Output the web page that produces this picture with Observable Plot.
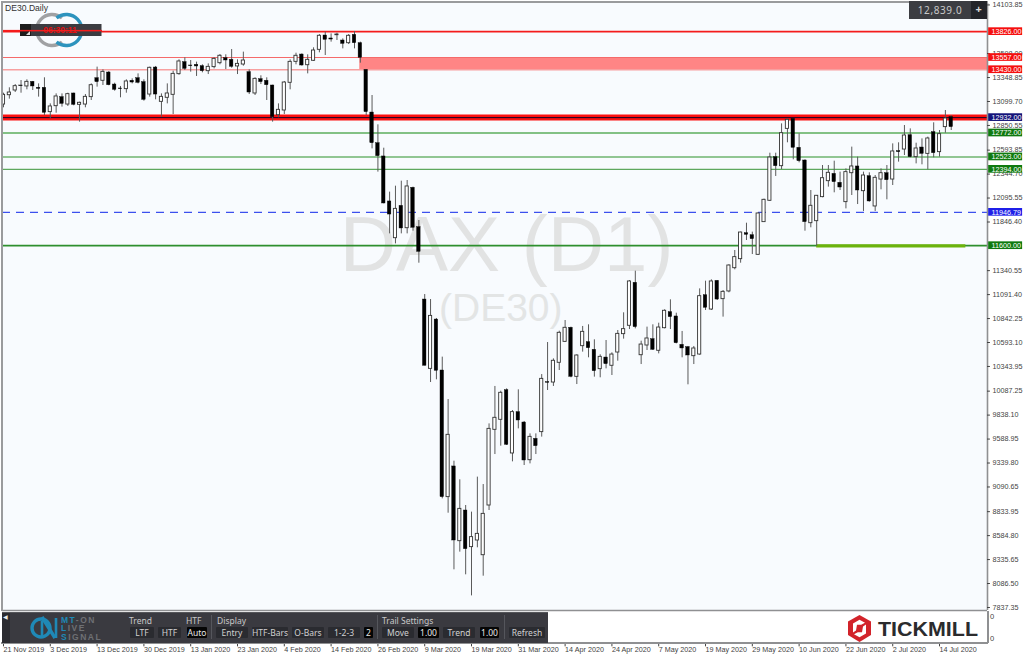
<!DOCTYPE html>
<html><head><meta charset="utf-8">
<script src="https://cdn.jsdelivr.net/npm/d3@7"></script>
<script src="https://cdn.jsdelivr.net/npm/@observablehq/plot@0.6"></script>
<style>
html,body{margin:0;padding:0;background:#fff;width:1024px;height:658px;overflow:hidden}
#wrap{position:relative;width:1024px;height:658px;font-family:"Noto Sans",sans-serif}
#wrap svg.plot{position:absolute;left:0;top:0}
.ov{position:absolute;box-sizing:border-box;white-space:nowrap}
.lab{color:#c8c8c8;font-size:8.5px;line-height:10px}
.btn{background:#2a2b30;color:#d0d0d0;font-size:8.5px;line-height:11px;height:11px;text-align:center;border-radius:1px}
.blk{background:#050505;color:#e8e8e8}
.div{background:#55565c;width:1px;height:24px;top:615px}
</style></head><body><div id="wrap"></div>
<script>
const open_ = [13068,13165,13214,13266,13256,13304,13242,13242,12989,13051,
13145,13068,13183,13065,13068,13145,13342,13315,13401,13276,
13235,13228,13315,13342,13301,13172,13453,13096,13138,13169,
13384,13509,13474,13481,13467,13415,13457,13498,13550,13533,
13464,13484,13405,13183,13332,13315,13266,12957,13006,13294,
13512,13588,13477,13523,13637,13786,13755,13789,13734,13706,
13793,13706,13429,12985,12666,12528,12060,11678,12014,11782,
12202,11793,11040,10319,10832,10302,8985,9304,8527,8846,
8465,8534,8381,8898,9685,9789,10097,9439,9869,9761,
9369,9591,9661,10181,10177,10382,10600,10746,10236,10555,
10597,10517,10316,10437,10351,10489,10680,10767,11214,10461,
10562,10628,10507,10742,10909,10864,10569,10545,10451,10468,
11085,10936,11234,11044,11124,11366,11460,11730,11709,11505,
11845,12067,12521,12427,12815,12919,12618,12486,11834,11855,
12105,12271,12347,12254,12053,12354,12424,12167,12323,12008,
12288,12354,12288,12583,12600,12749,12521,12621,12555,12781,
12573,12833,12937];
const close_ = [13169,13193,13259,13259,13304,13256,13231,12982,13048,13152,
13075,13176,13065,13086,13148,13269,13301,13408,13269,13221,
13228,13308,13297,13294,13117,13450,13172,13148,13183,13387,
13516,13439,13467,13464,13415,13460,13543,13575,13526,13460,
13491,13526,13193,13335,13301,13269,12937,13013,13297,13512,
13575,13474,13533,13630,13783,13741,13744,13796,13699,13783,
13706,13554,12989,12666,12531,12039,11924,11983,11779,12216,
11786,11536,10351,10870,10299,8985,9633,8534,8863,8444,
8569,8603,8811,9695,9810,10070,9529,9869,9782,9366,
9612,9515,10215,10174,10403,10694,10746,10236,10458,10704,
10534,10295,10444,10368,10468,10683,10732,11228,10753,10572,
10635,10517,10749,10923,10857,10586,10531,10458,10531,11075,
10954,11228,11040,11120,11394,11481,11737,11713,11668,11935,
12077,12517,12427,12770,12909,12618,12479,11845,12015,12119,
12302,12358,12261,12205,12365,12424,12174,12330,12060,12306,
12354,12281,12580,12573,12746,12521,12611,12555,12715,12562,
12760,12923,12833];
const high_ = [13186,13242,13276,13318,13325,13308,13283,13346,13075,13179,
13179,13186,13186,13093,13172,13283,13457,13429,13412,13290,
13256,13325,13335,13387,13325,13457,13464,13179,13283,13415,
13533,13554,13526,13509,13481,13491,13554,13588,13585,13640,
13533,13613,13429,13346,13367,13346,13269,13075,13308,13533,
13602,13595,13585,13658,13796,13821,13803,13810,13751,13796,
13828,13717,13429,13162,12857,12614,12157,12219,12271,12278,
12209,11862,11092,11040,10843,10441,10000,9359,9165,8898,
8829,9193,9116,9747,10136,10087,10111,9886,10101,9772,
9643,9643,10260,10593,10423,10711,10822,10753,10465,10760,
10777,10621,10465,10614,10486,10718,10902,11238,11335,10607,
10753,10777,10794,10933,11037,10898,10708,10552,10552,11151,
11231,11245,11238,11134,11401,11550,11741,11834,11741,11942,
12084,12562,12562,12867,12919,12919,12763,12493,12174,12122,
12434,12434,12479,12365,12399,12625,12521,12365,12358,12330,
12399,12434,12659,12670,12850,12815,12666,12711,12729,12878,
12798,13006,12954];
const low_ = [13034,13124,13193,13186,13221,13214,13145,12954,12919,12978,
13041,13048,13055,12885,13034,13110,13249,13266,13263,13207,
13138,13186,13283,13283,13103,13145,13117,12937,13075,12964,
13373,13422,13405,13360,13398,13380,13439,13481,13432,13446,
13380,13467,13172,13162,13276,13110,12885,12930,12964,13221,
13481,13467,13387,13516,13606,13578,13717,13734,13647,13692,
13647,13498,12954,12607,12365,12035,11723,11619,11723,11723,
11751,11418,10351,10177,10205,8967,8818,8229,8413,8177,
7958,8458,8163,8846,9428,9515,9522,9352,9695,9314,
9331,9428,9609,10094,10136,10302,10593,10226,10156,10493,
10434,10233,10226,10319,10250,10399,10628,10728,10735,10364,
10510,10510,10475,10735,10728,10579,10434,10153,10364,10461,
10926,10926,11030,10857,11110,11349,11418,11654,11508,11498,
11855,12060,12320,12392,12670,12493,12462,11751,11786,11592,
12098,12209,12150,12174,11983,12122,12028,11956,12053,11956,
12181,12077,12226,12469,12538,12514,12451,12441,12389,12514,
12521,12770,12798];

const priceTicks = [14103.85,13598.00,13348.85,13099.70,12850.55,12593.85,12344.70,12095.55,11846.40,11340.55,11091.40,10842.25,10593.10,10343.95,10087.25,9838.10,9588.95,9339.80,9090.65,8833.95,8584.80,8335.65,8086.50,7837.35];
const dateLabels = ["21 Nov 2019","3 Dec 2019","13 Dec 2019","30 Dec 2019","13 Jan 2020","23 Jan 2020","4 Feb 2020","14 Feb 2020","26 Feb 2020","9 Mar 2020","19 Mar 2020","31 Mar 2020","14 Apr 2020","24 Apr 2020","7 May 2020","19 May 2020","29 May 2020","10 Jun 2020","22 Jun 2020","2 Jul 2020","14 Jul 2020"];
const levelValues = [13826,13557,13430,12932,12772,12523,12394,11946.79,11600];
const levelLabels = ["13826.00","13557.00","13430.00","12932.00","12772.00","12523.00","12394.00","11946.79","11600.00"];
const levelFill = ["#f50f0f","#f50f0f","#f50f0f","#14147a","#0f7a0f","#0f7a0f","#0f7a0f","#1f1fe8","#0f7a0f"];
const levelStroke = ["#f41c1c","#f56a6a","#f7a0a0","#f01010","#5cae5c","#6fb56f","#5ea85e","#3c50ee","#2e8f2e"];
const levelWidth = [1.6,1.2,1.6,1.2,1.4,1.4,1.3,1.2,1.8];

const candles = open_.map((o,k)=>({i:k+1,o,c:close_[k],h:high_[k],l:low_[k],up:close_[k]>=o}));
const levels = levelValues.map((v,k)=>({v,label:levelLabels[k],fill:levelFill[k],stroke:levelStroke[k],w:levelWidth[k]}));
const dates = dateLabels.map((label,k)=>({label,i:1+8*k}));

const xEnd = 169.2, xStart = 0.83;     // candle-index edges of the chart window
const boxL = 169.4, boxR = 175.2;      // price tags in the right gutter
const yLow = 7806, yTop = 14118.8;
const labelFont = "'Liberation Sans',sans-serif";

const chart = Plot.plot({
  width:1024,height:658,
  marginLeft:2,marginRight:37,marginTop:3,marginBottom:48,
  style:{background:"transparent",fontFamily:labelFont,overflow:"visible"},
  x:{domain:[xStart,xEnd],axis:null},
  y:{domain:[yLow,yTop],axis:null},
  marks:[
    Plot.rect([0],{x1:xStart,x2:xEnd,y1:yLow,y2:yTop,fill:"#f8fbfe"}),
    Plot.text(["DAX (D1)"],{x:[87],y:[11600],fill:"#e2e3e3",fontSize:78,fontFamily:labelFont,textAnchor:"middle"}),
    Plot.text(["(DE30)"],{x:[86],y:[10950],fill:"#e3e5e5",fontSize:39,fontFamily:labelFont,textAnchor:"middle"}),
    Plot.rect([0],{x1:61.9,x2:xEnd,y1:13430,y2:13557,fill:"#ff8585"}),
    Plot.ruleY([12932],{x1:xStart,x2:xEnd,stroke:"#fb1010",strokeWidth:6}),
    Plot.ruleY(levels.filter(d=>d.v!==11946.79),{y:"v",x1:xStart,x2:xEnd,stroke:"stroke",strokeWidth:"w"}),
    Plot.ruleY(levels.filter(d=>d.v===11946.79),{y:"v",x1:xStart,x2:xEnd,stroke:"stroke",strokeWidth:1.2,strokeDasharray:"8,6"}),
    Plot.ruleY([12932],{x1:xStart,x2:xEnd,stroke:"#16062a",strokeWidth:1}),
    Plot.ruleY([11598],{x1:140,x2:165.5,stroke:"#6cb30c",strokeWidth:3.2}),
    Plot.ruleX(candles,{x:"i",y1:"l",y2:"h",stroke:"#5a5a5a",strokeWidth:1}),
    Plot.rect(candles.filter(d=>d.up),{x1:d=>d.i-.27,x2:d=>d.i+.27,y1:"o",y2:"c",fill:"#fff",stroke:"#333",strokeWidth:.9}),
    Plot.rect(candles.filter(d=>!d.up),{x1:d=>d.i-.3,x2:d=>d.i+.3,y1:"o",y2:"c",fill:"#000",stroke:"#000",strokeWidth:.4}),
    Plot.ruleX([xEnd],{y1:yLow,y2:yTop,stroke:"#8f9092",strokeWidth:1.6}),
    Plot.ruleY([yLow],{x1:xStart,x2:xEnd,stroke:"#8f9092",strokeWidth:1.6}),
    Plot.ruleY(priceTicks,{x1:xEnd,x2:xEnd+.5,stroke:"#444",strokeWidth:1}),
    Plot.text(priceTicks,{x:xEnd+.85,y:d=>d,text:d=>d.toFixed(2),textAnchor:"start",fill:"#3f3f3f",fontSize:7.2}),
    Plot.rect(levels,{x1:boxL,x2:boxR,y1:d=>d.v+40,y2:d=>d.v-40,fill:"fill"}),
    Plot.text(levels,{x:boxL+.5,y:"v",text:"label",textAnchor:"start",fill:"#fff",fontSize:7.2}),
    Plot.ruleX(dates,{x:"i",y1:7463,y2:7428,stroke:"#444",strokeWidth:1}),
    Plot.text(dates,{x:"i",y:7395,text:"label",textAnchor:"start",fill:"#3f3f3f",fontSize:7.2})
  ]
});
chart.classList.add("plot");
const wrap=document.getElementById("wrap");
wrap.append(chart);

function ov(html,css,cls){const e=document.createElement("div");e.className="ov "+(cls||"");e.style.cssText=css;e.innerHTML=html;wrap.append(e);return e}
ov("","left:1px;top:1px;width:987px;height:2px;background:#9a9b9d");
ov("","left:1px;top:1px;width:2px;height:610px;background:#9a9b9d");
ov("","left:987px;top:611px;width:1.5px;height:32px;background:#8f9092");
ov("","left:1px;top:642px;width:987px;height:1.5px;background:#8f9092");
ov("0","left:990px;top:611px;font-family:'Liberation Sans';font-size:7.6px;line-height:11px;color:#3f3f3f");
ov("0","left:990px;top:633px;font-family:'Liberation Sans';font-size:7.6px;line-height:11px;color:#3f3f3f");
ov("DE30.Daily","left:5px;top:3px;font-family:'Liberation Sans';font-size:8.6px;line-height:11px;color:#333");
ov(`<svg width="120" height="60"><g fill="none" stroke-width="3.4">
<path d="M62 18 A15.5 15.5 0 1 0 62 42" stroke="#a0a1a3"/>
<path d="M56.5 18 A15.5 15.5 0 1 1 56.5 42" stroke="#2d93bd"/>
</g><rect x="20" y="24" width="81.5" height="12" fill="#3b3c41"/><rect x="20" y="24" width="11" height="12" fill="#1c1c1c"/>
<path d="M26 35 L30 35 L30 31 Z" fill="#ddd"/>
<text x="60" y="33" text-anchor="middle" fill="#e01010" font-size="8.5" font-weight="700" font-family="Liberation Sans">06:30:11</text>
<rect x="3" y="29.9" width="99" height="1.5" fill="#f41c1c"/></svg>`,"left:0;top:0");
ov(`<span style="position:absolute;left:0;width:62px;text-align:center;top:3px">12,839.0</span><span style="position:absolute;left:62px;top:0;width:16px;height:18px;background:#24252a;text-align:center;line-height:16px;font-weight:700;font-size:11px;color:#ddd">+</span>`,
 "left:909px;top:1px;width:78px;height:18px;background:#3c3d42;color:#c9c9c9;font-size:10px;line-height:12px;letter-spacing:.6px;");
ov("","left:2px;top:612px;width:546px;height:31px;background:#3a3a40;border-top:1px solid #55565a");
ov("","left:2px;top:613px;width:8px;height:30px;background:#2b2b30");
ov("◀","left:3px;top:613px;font-size:6px;line-height:8px;color:#eee");
ov(`<svg width="40" height="34"><circle cx="11" cy="17" r="9" fill="none" stroke="#1f89b6" stroke-width="3.4"/><path d="M12 6 L25 27" stroke="#1f89b6" stroke-width="3.4" fill="none"/><path d="M12 10 L12 25 M26 7 L26 27" stroke="#1f89b6" stroke-width="2.6" fill="none"/></svg>`,"left:30px;top:611px");
ov(`<span style="color:#1f89b6">MT</span><span style="color:#6e7074">-ON</span><br><span style="color:#1f89b6">L</span><span style="color:#6e7074">IVE</span><br><span style="color:#1f89b6">S</span><span style="color:#6e7074">IGNAL</span>`,
 "left:61px;top:616px;font-size:8.5px;line-height:8.3px;font-weight:700;letter-spacing:1.5px;font-family:'Liberation Sans'");
[["Trend",129],["HTF",186],["Display",217],["Trail Settings",382]].forEach(([t,x])=>ov(t,`left:${x}px;top:616px`,"lab"));
[[211],[377],[504]].forEach(([x])=>ov("",`left:${x}px`,"div"));
[["LTF",130,24],["HTF",158,23],["Auto",187,20,1],["Entry",216,32],["HTF-Bars",252,36],["O-Bars",292,32],["1-2-3",328,32],["2",364,9,1],["Move",382,32],["1.00",418,21,1],["Trend",443,32],["1.00",480,19,1],["Refresh",509,36]]
 .forEach(([t,x,w,b])=>ov(t,`left:${x}px;top:627px;width:${w}px`,"btn"+(b?" blk":"")));
ov(`<svg width="132" height="30"><path d="M11.5 3 L23 9.5 L23 23 L11.5 30 L0 23 L0 9.5 Z" fill="#d2232a"/>
<path d="M5 11.5 L11.5 7.8 L17 10.8 L13.2 12.8 L9 12.8 L8 18.5 L5 20.5 Z M18 21.5 L11.5 25.2 L6 22.2 L9.8 20.2 L14 20.2 L15 14.5 L18 12.5 Z" fill="#fff"/>
<text x="30" y="24" font-family="Liberation Sans" font-weight="700" font-size="21" textLength="100" lengthAdjust="spacingAndGlyphs" fill="#2b2b2d">TICKMILL</text></svg>`,
 "left:848px;top:612px;width:132px;height:30px;background:#fff");
</script></body></html>
